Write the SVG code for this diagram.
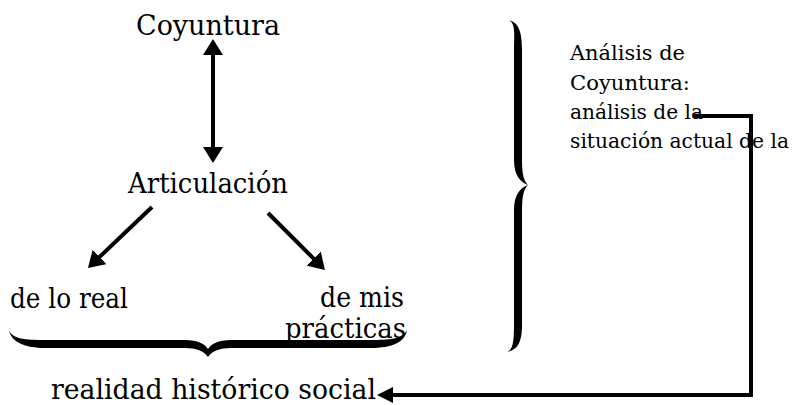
<svg xmlns="http://www.w3.org/2000/svg" width="796" height="405" viewBox="0 0 796 405">
<style>
text{font-family:"DejaVu Serif","Liberation Serif",serif;fill:#000}
.big{font-size:27px}
.small{font-size:20.5px}
.ln{fill:none;stroke:#000;stroke-width:4}
.brace{fill:#000;stroke:none}
</style>
<defs>
<marker id="ah" markerUnits="userSpaceOnUse" markerWidth="18" markerHeight="20" refX="6" refY="10" orient="auto-start-reverse" viewBox="0 0 18 20">
<path d="M0,0 L16,10 L0,20 Z" fill="#000"/>
</marker>
<marker id="ah2" markerUnits="userSpaceOnUse" markerWidth="18" markerHeight="16" refX="6" refY="8" orient="auto" viewBox="0 0 18 16">
<path d="M0,0 L16,8 L0,16 Z" fill="#000"/>
</marker>
</defs>
<g id="coyuntura"><text class="big" x="136" y="35" textLength="144" lengthAdjust="spacingAndGlyphs">Coyuntura</text></g>
<g id="articulacion"><text class="big" x="128" y="193" textLength="160" lengthAdjust="spacingAndGlyphs">Articulación</text></g>
<g id="de-lo-real"><text class="big" x="10" y="308" textLength="118" lengthAdjust="spacingAndGlyphs">de lo real</text></g>
<g id="de-mis-practicas">
<text class="big" x="320" y="307" textLength="84" lengthAdjust="spacingAndGlyphs">de mis</text>
<text class="big" x="285" y="338" textLength="121" lengthAdjust="spacingAndGlyphs">prácticas</text>
</g>
<g id="brace-bottom"><path class="brace" d="M9,330 C12,339 25,340 45,340 L185,340 C198,340 205,344 208,349 C211,344 218,340 231,340 L370,340 C390,340 403,339 407,330 C405,342 393,348 370,348 L231,348 C220,348 212,351 208,357 C204,351 196,348 185,348 L45,348 C25,348 11,342 9,330 Z"/></g>
<g id="realidad"><text class="big" x="51" y="399" textLength="325" lengthAdjust="spacingAndGlyphs">realidad histórico social</text></g>
<g id="brace-right"><path class="brace" d="M508,20 C516,22 514,35 514,50 L514,160 C514,175 520,182 528,185 C520,188 514,195 514,210 L514,325 C514,345 512,350 507,352 C516,350 522,345 522,325 L522,210 C522,195 524,189 528,185 C524,181 522,175 522,160 L522,50 C522,30 518,22 508,20 Z"/></g>
<g id="analisis">
<text class="small" x="570" y="60" textLength="115" lengthAdjust="spacingAndGlyphs">Análisis de</text>
<text class="small" x="570" y="90" textLength="120" lengthAdjust="spacingAndGlyphs">Coyuntura:</text>
<text class="small" x="570" y="119" textLength="133" lengthAdjust="spacingAndGlyphs">análisis de la</text>
<text class="small" x="570" y="148" textLength="219" lengthAdjust="spacingAndGlyphs">situación actual de la</text>
</g>
<g id="connectors">
<line class="ln" x1="213" y1="49" x2="213" y2="153" marker-start="url(#ah)" marker-end="url(#ah)"/>
<line class="ln" x1="152" y1="207" x2="95.2" y2="261.1" marker-end="url(#ah)"/>
<line class="ln" x1="268" y1="213" x2="317.9" y2="262.9" marker-end="url(#ah)"/>
<polyline class="ln" points="693,116 751,116 751,395 387,395" marker-end="url(#ah2)"/>
</g>
</svg>
